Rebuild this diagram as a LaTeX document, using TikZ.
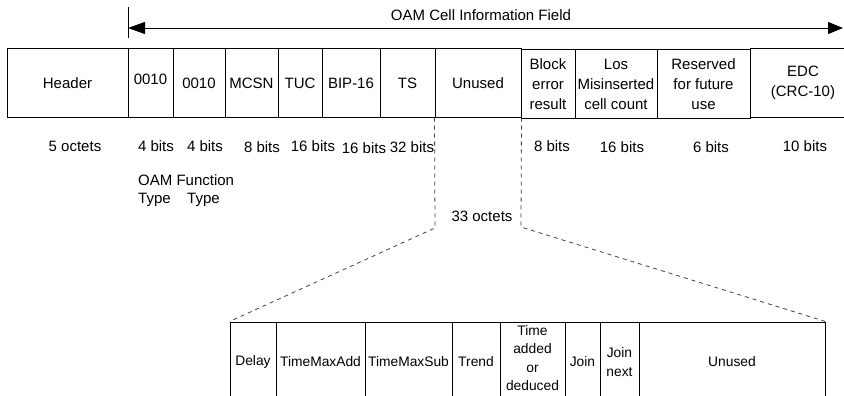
\documentclass[tikz,border=0pt]{standalone}
\usepackage{fontspec}
\setmainfont{Liberation Sans}
\usetikzlibrary{arrows.meta}
\tikzset{
  cell/.style={draw, line width=1pt, inner sep=0pt, align=center, minimum height=68pt,
    font=\fontsize{15}{20}\selectfont},
  lcell/.style={draw, line width=1pt, inner sep=0pt, align=center, minimum height=80pt,
    font=\fontsize{13.8}{18.5}\selectfont},
  lbl/.style={inner sep=0pt, font=\fontsize{15}{20}\selectfont},
  divider/.style={line width=1.8pt},
  zoomline/.style={line width=0.8pt, dash pattern=on 4pt off 4pt, black!75},
}
\begin{document}
\begin{tikzpicture}[x=1pt,y=-1pt]
\clip (0,0) rectangle (844,396);
% top row
\node[cell, minimum width=121pt] (header) at (67.5,83) {Header};
\node[cell, minimum width=45pt] (ft1) at (150.5,83) {};
\node[lbl] at (150.5,79) {0010};
\node[cell, minimum width=52pt] (ft2) at (199,83) {0010};
\node[cell, minimum width=53pt] (mcsn) at (251.5,83) {MCSN};
\node[cell, minimum width=44pt] (tuc) at (300,83) {TUC};
\node[cell, minimum width=58pt] (bip) at (351,83) {BIP-16};
\node[cell, minimum width=55pt] (ts) at (407.5,83) {TS};
\node[cell, minimum width=86pt] (unused) at (478,83) {Unused};
\node[cell, minimum width=54pt] (block) at (548,84) {Block\\error\\result};
\node[cell, minimum width=82pt] (los) at (616,84) {Los\\Misinserted\\cell count};
\node[cell, minimum width=93pt] (res) at (703.5,84) {Reserved\\for future\\use};
\node[cell, minimum width=106pt] (edc) at (803,83) {EDC\\(CRC-10)};
\foreach \n in {header,ft1,ft2,mcsn,tuc,bip,ts,unused,block,los,res}
  \draw[divider] (\n.north east) -- (\n.south east);

% arrow
\coordinate (tickTop) at (128,7);
\coordinate (tickBot) at (128,38);
\coordinate (arrL) at (128,28);
\coordinate (arrR) at (843,28);
\draw[line width=0.9pt] (tickTop) -- (tickBot);
\draw[line width=0.9pt, {Triangle[length=17pt,width=12pt]}-{Triangle[length=15pt,width=12pt]}] (arrL) -- (arrR);
\node[lbl] (title) at (481,15) {OAM Cell Information Field};

% sizes
\node[lbl] (s1) at (75,146) {5 octets};
\node[lbl] (s2) at (156,146) {4 bits};
\node[lbl] (s3) at (205,146) {4 bits};
\node[lbl] (s4) at (262,147) {8 bits};
\node[lbl] (s5) at (313,146) {16 bits};
\node[lbl] (s6) at (364,148) {16 bits};
\node[lbl] (s7) at (412,147) {32 bits};
\node[lbl] (s8) at (552,146) {8 bits};
\node[lbl] (s9) at (622,147) {16 bits};
\node[lbl] (s10) at (711,147) {6 bits};
\node[lbl] (s11) at (805,146) {10 bits};
\node[lbl, anchor=west] (oamf) at (138,180) {OAM Function};
\node[lbl, anchor=west] (type1) at (138,200) {Type};
\node[lbl, anchor=west] (type2) at (187,200) {Type};
\node[lbl] (oct33) at (482,216) {33 octets};

% lower row
\node[lcell, minimum width=46pt] (delay) at (253,362) {Delay};
\node[lcell, minimum width=89pt] (tmadd) at (320.5,362) {TimeMaxAdd};
\node[lcell, minimum width=87pt] (tmsub) at (408.5,362) {TimeMaxSub};
\node[lcell, minimum width=48pt] (trend) at (476,362) {Trend};
\node[lcell, minimum width=65pt] (tad) at (532.5,362) {};
\node[inner sep=0pt, align=center, font=\fontsize{13.8}{18.5}\selectfont] (tadtxt) at (532.5,358) {Time\\added\\or\\deduced};
\node[lcell, minimum width=35pt] (join) at (582.5,362) {Join};
\node[lcell, minimum width=39pt] (joinn) at (619.5,362) {Join\\next};
\node[lcell, minimum width=186pt] (unused2) at (732,362) {Unused};
\foreach \n in {delay,tmadd,tmsub,trend,tad,join,joinn}
  \draw[divider] (\n.north east) -- (\n.south east);

% zoom lines
\coordinate (zl) at (435,228);
\coordinate (zr) at (521,227);
\draw[zoomline] (unused.south west) -- (zl) -- (delay.north west);
\draw[zoomline] (unused.south east) -- (zr) -- (unused2.north east);
\end{tikzpicture}
\end{document}
